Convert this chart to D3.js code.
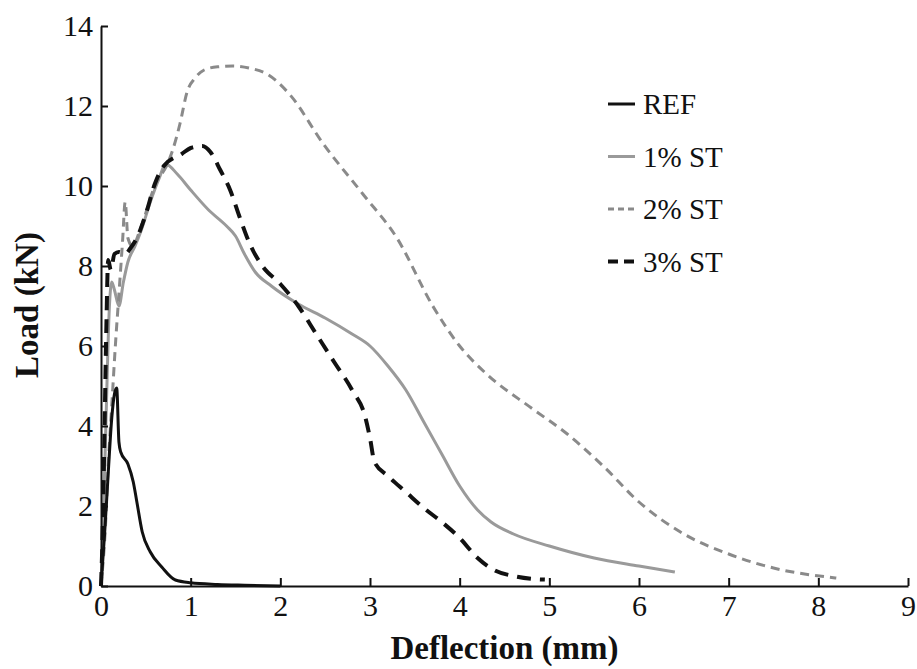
<!DOCTYPE html>
<html>
<head>
<meta charset="utf-8">
<script src="https://cdn.jsdelivr.net/npm/d3@7"></script>
</head>
<body style="margin:0">
<svg width="917" height="669"></svg>
<script>
// load-deflection curves
const refX = [0, 0.04, 0.08, 0.12, 0.15, 0.175, 0.2, 0.22, 0.3, 0.36, 0.4, 0.46, 0.55, 0.68, 0.83, 1.0, 1.3, 1.6, 2.0];
const refY = [0, 1.3, 2.8, 4.2, 4.8, 4.95, 3.6, 3.35, 3.05, 2.6, 2.1, 1.35, 0.85, 0.47, 0.15, 0.08, 0.04, 0.02, 0];

const st1X = [0, 0.03, 0.06, 0.09, 0.12, 0.15, 0.2, 0.25, 0.3, 0.38, 0.45, 0.55, 0.65, 0.72, 0.85, 1.0, 1.2, 1.4, 1.5, 1.6, 1.72, 1.9, 2.2, 2.5, 2.8, 3.0, 3.2, 3.4, 3.6, 3.8, 4.0, 4.2, 4.35, 4.6, 5.0, 5.5, 6.0, 6.4];
const st1Y = [0, 2.0, 4.5, 6.8, 7.6, 7.4, 7.0, 7.6, 8.1, 8.5, 8.9, 9.6, 10.2, 10.55, 10.3, 9.9, 9.4, 9.0, 8.75, 8.3, 7.85, 7.5, 7.05, 6.7, 6.3, 6.0, 5.5, 4.9, 4.1, 3.3, 2.5, 1.9, 1.6, 1.3, 1.0, 0.7, 0.5, 0.35];

const st2X = [0, 0.05, 0.08, 0.12, 0.16, 0.2, 0.24, 0.27, 0.3, 0.35, 0.45, 0.6, 0.75, 0.8, 0.88, 0.96, 1.05, 1.15, 1.3, 1.47, 1.65, 1.85, 2.1, 2.48, 2.92, 3.3, 3.7, 4.0, 4.3, 4.8, 5.2, 5.6, 6.0, 6.5, 7.0, 7.5, 8.2];
const st2Y = [0, 1.5, 3.0, 4.5, 6.0, 7.3, 8.6, 9.6, 8.7, 8.5, 9.0, 10.0, 10.6, 10.9, 11.55, 12.35, 12.7, 12.9, 12.98, 13.0, 12.95, 12.8, 12.3, 11.05, 9.8, 8.7, 7.0, 6.0, 5.3, 4.45, 3.8, 3.0, 2.1, 1.3, 0.8, 0.45, 0.2];

const st3X = [0, 0.02, 0.04, 0.06, 0.08, 0.11, 0.15, 0.2, 0.27, 0.33, 0.4, 0.5, 0.6, 0.7, 0.9, 1.0, 1.13, 1.22, 1.33, 1.44, 1.55, 1.65, 1.8, 2.0, 2.2, 2.4, 2.6, 2.8, 2.95, 3.0, 3.05, 3.2, 3.4, 3.6, 3.8, 4.0, 4.2, 4.4, 4.6, 4.8, 4.95];
const st3Y = [0, 1.5, 4.0, 6.5, 8.15, 7.9, 8.3, 8.35, 8.3, 8.45, 8.7, 9.3, 10.05, 10.5, 10.8, 10.95, 11.0, 10.85, 10.4, 9.9, 9.2, 8.6, 8.0, 7.55, 7.0, 6.3, 5.6, 4.9, 4.2, 3.7, 3.1, 2.75, 2.35, 1.95, 1.6, 1.2, 0.7, 0.38, 0.25, 0.18, 0.16];

const xTicks = [0, 1, 2, 3, 4, 5, 6, 7, 8, 9];
const yTicks = [0, 2, 4, 6, 8, 10, 12, 14];
const seriesNames = ["REF", "1% ST", "2% ST", "3% ST"];

const serif = '"Liberation Serif"';

const svg = d3.select("svg");
const margin = {left: 101, top: 26, right: 9, bottom: 83};
const w = 917 - margin.left - margin.right, h = 669 - margin.top - margin.bottom;

const x = d3.scaleLinear().domain([0, 9]).range([0, w]);
const y = d3.scaleLinear().domain([0, 14]).range([h, 0]);

const g = svg.append("g").attr("transform", `translate(${margin.left},${margin.top})`);

const styles = [
  {stroke: "#111", width: 3, dash: null},
  {stroke: "#9a9a9a", width: 3, dash: null},
  {stroke: "#8a8a8a", width: 3, dash: "9,6"},
  {stroke: "#111", width: 4, dash: "14,9"}
];

const series = [
  refX.map((d, i) => [d, refY[i]]),
  st1X.map((d, i) => [d, st1Y[i]]),
  st2X.map((d, i) => [d, st2Y[i]]),
  st3X.map((d, i) => [d, st3Y[i]])
];

const line = d3.line()
  .x(d => x(d[0]))
  .y(d => y(d[1]))
  .curve(d3.curveMonotoneX);

// draw order: light ones first
[1, 2, 3, 0].forEach(i => {
  g.append("path")
    .datum(series[i])
    .attr("d", line)
    .attr("fill", "none")
    .attr("stroke", styles[i].stroke)
    .attr("stroke-width", styles[i].width)
    .attr("stroke-dasharray", styles[i].dash)
    .attr("stroke-linejoin", "round");
});

const xAxis = g.append("g")
  .attr("transform", `translate(0,${h})`)
  .call(d3.axisBottom(x).tickValues(xTicks).tickFormat(d3.format("d")).tickSizeInner(-8).tickSizeOuter(0).tickPadding(9));
const yAxis = g.append("g")
  .call(d3.axisLeft(y).tickValues(yTicks).tickFormat(d3.format("d")).tickSizeInner(-7).tickSizeOuter(0).tickPadding(8));

[xAxis, yAxis].forEach(a => {
  a.select(".domain").attr("stroke", "#111").attr("stroke-width", 2);
  a.selectAll(".tick line").attr("stroke", "#111").attr("stroke-width", 2);
  a.selectAll(".tick text")
    .attr("fill", "#111")
    .style("font-family", serif)
    .style("font-weight", 400)
    .style("font-size", "30px");
});

svg.append("text")
  .attr("x", margin.left + x(4.5))
  .attr("y", 659)
  .attr("text-anchor", "middle")
  .style("font-family", serif)
  .style("font-size", "33px")
  .style("font-weight", 700)
  .attr("fill", "#111")
  .text("Deflection (mm)");

svg.append("text")
  .attr("transform", "translate(38,305) rotate(-90)")
  .attr("text-anchor", "middle")
  .style("font-family", serif)
  .style("font-size", "33px")
  .style("font-weight", 700)
  .attr("fill", "#111")
  .text("Load (kN)");

// legend
const legend = svg.append("g").attr("transform", "translate(608,104)");
seriesNames.forEach((name, i) => {
  const row = legend.append("g").attr("transform", `translate(0,${i * 52.5})`);
  row.append("line")
    .attr("x1", 0).attr("x2", 27)
    .attr("stroke", styles[i].stroke)
    .attr("stroke-width", styles[i].width)
    .attr("stroke-dasharray", i === 3 ? "10,6" : (i === 2 ? "6,4" : null));
  row.append("text")
    .attr("x", 35)
    .attr("dy", "0.35em")
    .style("font-family", serif)
    .style("font-weight", 400)
    .style("font-size", "29px")
    .attr("fill", "#111")
    .text(name);
});
</script>
</body>
</html>
